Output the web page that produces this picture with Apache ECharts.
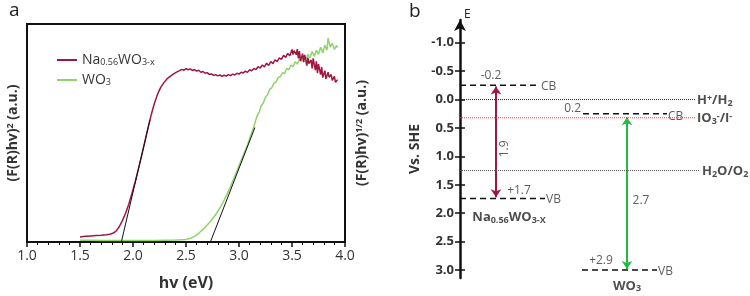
<!DOCTYPE html>
<html>
<head>
<meta charset="utf-8">
<script src="https://cdn.jsdelivr.net/npm/echarts@6.0.0/dist/echarts.min.js"></script>
<style>
  html, body { margin: 0; padding: 0; background: #fff; }
  #chart { width: 750px; height: 296px; }
</style>
</head>
<body>
<div id="chart"></div>
<script>
// ---- panel a: Tauc plot, [hv (eV), intensity (a.u.)] ----
const naCurve = [
  [1.50, 2.3], [1.55, 2.6], [1.60, 2.8], [1.65, 3.0], [1.70, 3.1], [1.75, 3.3], [1.78, 3.6], [1.81, 4.0],
  [1.84, 5.0], [1.87, 7.0], [1.90, 9.8], [1.93, 13.2], [1.96, 17.3], [1.99, 22.3], [2.02, 27.5], [2.05, 33.3],
  [2.08, 39.4], [2.11, 45.6], [2.14, 52.0], [2.17, 58.0], [2.20, 63.3], [2.23, 67.6], [2.26, 70.8], [2.29, 73.0],
  [2.32, 74.8], [2.35, 76.0], [2.38, 77.0], [2.41, 77.9], [2.44, 78.6], [2.46, 79.2], [2.48, 78.8], [2.50, 79.5],
  [2.52, 79.0], [2.54, 79.4], [2.56, 78.7], [2.58, 79.1], [2.60, 78.4], [2.62, 78.8], [2.64, 77.9], [2.66, 78.2],
  [2.68, 77.4], [2.70, 77.7], [2.72, 76.9], [2.74, 77.1], [2.76, 76.4], [2.78, 76.8], [2.80, 76.2], [2.82, 76.6],
  [2.84, 76.0], [2.86, 76.5], [2.88, 76.1], [2.90, 76.8], [2.92, 76.3], [2.94, 77.0], [2.96, 76.6], [2.98, 77.4],
  [3.00, 77.0], [3.02, 77.9], [3.04, 77.5], [3.06, 78.4], [3.08, 77.8], [3.10, 79.0], [3.12, 78.5], [3.14, 79.6],
  [3.16, 79.1], [3.18, 80.4], [3.20, 79.8], [3.22, 81.2], [3.24, 80.3], [3.26, 82.0], [3.28, 81.0], [3.30, 82.8],
  [3.32, 81.8], [3.34, 83.6], [3.36, 82.7], [3.38, 84.5], [3.40, 83.8], [3.42, 85.6], [3.44, 84.7], [3.46, 86.5],
  [3.48, 85.4], [3.50, 88.3], [3.51, 86.0], [3.52, 87.8], [3.54, 85.9], [3.55, 88.5], [3.56, 84.2], [3.57, 87.6],
  [3.58, 83.0], [3.60, 86.4], [3.61, 82.5], [3.62, 85.8], [3.64, 80.9], [3.65, 84.6], [3.66, 81.8], [3.68, 83.5],
  [3.69, 79.6], [3.70, 84.2], [3.72, 78.8], [3.73, 82.9], [3.74, 77.5], [3.75, 81.6], [3.77, 76.8], [3.78, 80.2],
  [3.79, 75.4], [3.81, 78.6], [3.82, 74.8], [3.84, 77.9], [3.85, 75.6], [3.87, 76.8], [3.88, 74.1], [3.90, 76.0],
  [3.91, 73.2], [3.93, 74.5]
];
const wo3Curve = [
  [1.50, 0.8], [1.60, 0.8], [1.70, 0.7], [1.80, 0.7], [1.90, 0.7], [2.00, 0.7], [2.10, 0.7], [2.20, 0.7],
  [2.30, 0.8], [2.40, 0.9], [2.45, 1.0], [2.50, 1.2], [2.54, 1.6], [2.58, 2.6], [2.62, 4.0], [2.66, 5.8],
  [2.70, 7.8], [2.74, 10.0], [2.78, 12.6], [2.82, 15.6], [2.86, 19.2], [2.90, 23.2], [2.94, 27.8], [2.98, 32.5],
  [3.02, 37.5], [3.05, 41.0], [3.08, 44.5], [3.11, 48.8], [3.13, 51.5], [3.15, 54.6], [3.17, 57.8], [3.19, 59.6],
  [3.21, 62.5], [3.23, 63.9], [3.25, 66.4], [3.27, 67.6], [3.29, 70.0], [3.31, 70.8], [3.33, 72.9], [3.35, 73.4],
  [3.37, 75.5], [3.39, 75.9], [3.41, 77.6], [3.43, 77.3], [3.45, 79.6], [3.47, 79.0], [3.49, 81.2], [3.51, 80.4],
  [3.53, 82.7], [3.55, 81.6], [3.57, 83.8], [3.59, 82.9], [3.61, 85.2], [3.63, 83.7], [3.65, 86.0], [3.67, 84.6],
  [3.69, 87.4], [3.71, 85.2], [3.73, 88.0], [3.75, 86.1], [3.77, 89.3], [3.79, 86.8], [3.81, 90.2], [3.83, 88.0],
  [3.84, 93.6], [3.86, 89.4], [3.88, 91.2], [3.90, 88.4], [3.92, 90.1], [3.93, 89.2]
];
const naTangent = [[1.89, 0], [2.16, 56]];
const wo3Tangent = [[2.73, 0], [3.15, 52.5]];

// ---- panel b: band positions (V vs. SHE) ----
const energyTicks = [-1.0, -0.5, 0.0, 0.5, 1.0, 1.5, 2.0, 2.5, 3.0];
const bandEnergies = [-0.25, 1.74, 0.25, 3.0];       // Na CB, Na VB, WO3 CB, WO3 VB
const bandValueLabels = ['-0.2', '+1.7', '0.2', '+2.9'];
const bandTags = ['CB', 'VB', 'CB', 'VB'];
const redoxEnergies = [0.0, 0.32, 1.25];
const redoxLabels = ['H{sup|+}/H{sub|2}', 'IO{sub|3}{sup|-}/I{sup|-}', 'H{sub|2}O/O{sub|2}'];
const gapLabels = ['1.9', '2.7'];
const gapArrows = [[-0.23, 1.72], [0.31, 2.98]];    // arrow tips, top and bottom

// layout of panel b (x in px from the energy axis)
const bandX = [[0, 80], [0, 85], [123, 207], [122, 197]];
const bandValueX = [31, 59, 121, 141];
const bandValueAlign = ['center', 'center', 'right', 'center'];
const bandValueDy = [-10, -8, -5, -9];
const bandTagDy = [1, 1, 3, 2];
const redoxX = [[0, 235], [0, 235], [0, 240]];
const redoxColors = ['#222', '#f03a3a', '#555'];
const arrowX = [36, 167];
const arrowColors = ['#a0163f', '#22bb44'];

const FONT = 'Open Sans';
const RED = '#a0163f';
const GREEN = '#8fd36a';

const rich = {
  sub: { fontSize: 9, verticalAlign: 'bottom', fontFamily: FONT, padding: [5, 0, 0, 0] },
  sup: { fontSize: 9, verticalAlign: 'top', fontFamily: FONT, padding: [0, 0, 5, 0] }
};
function richB() {
  return {
    sub: Object.assign({}, rich.sub, { fontWeight: 'bold' }),
    sup: Object.assign({}, rich.sup, { fontWeight: 'bold' })
  };
}

// text items for panel b
const texts = [];
bandEnergies.forEach((e, i) => {
  texts.push({ value: [bandValueX[i], e], label: { formatter: bandValueLabels[i], align: bandValueAlign[i], offset: [0, bandValueDy[i]] } });
  texts.push({ value: [bandX[i][1] + 1, e], label: { formatter: bandTags[i], align: 'left', offset: [0, bandTagDy[i]] } });
});
redoxEnergies.forEach((e, i) => {
  texts.push({ value: [redoxX[i][1] + 2, e], label: { formatter: redoxLabels[i], align: 'left', fontWeight: 'bold', fontSize: 13, color: '#222', rich: richB(), offset: [0, 1] } });
});
gapLabels.forEach((g, i) => {
  const mid = (gapArrows[i][0] + gapArrows[i][1]) / 2;
  texts.push(i === 0
    ? { value: [arrowX[i] + 9, mid], label: { formatter: g, align: 'center', rotate: 90, offset: [-7, 0] } }
    : { value: [arrowX[i] + 14, mid], label: { formatter: g, align: 'center', offset: [0, 8] } });
});
texts.push({ value: [49, bandEnergies[1]], label: { formatter: 'Na{sub|0.56}WO{sub|3-X}', align: 'center', fontWeight: 'bold', fontSize: 13, color: '#222', rich: richB(), offset: [0, 19] } });
texts.push({ value: [167, bandEnergies[3]], label: { formatter: 'WO{sub|3}', align: 'center', fontWeight: 'bold', fontSize: 13, color: '#222', rich: richB(), offset: [0, 16] } });

const levelSeries = bandEnergies.map((e, i) => ({
  type: 'line', xAxisIndex: 1, yAxisIndex: 2, symbol: 'none', silent: true,
  lineStyle: { color: '#111', width: 1.5, type: [6, 4] },
  data: [[bandX[i][0], e], [bandX[i][1], e]]
}));
const redoxSeries = redoxEnergies.map((e, i) => ({
  type: 'line', xAxisIndex: 1, yAxisIndex: 2, symbol: 'none', silent: true,
  lineStyle: { color: redoxColors[i], width: 1, type: [1, 1] },
  data: [[redoxX[i][0], e], [redoxX[i][1], e]]
}));
const arrowSeries = gapArrows.map((a, i) => ({
  type: 'lines', coordinateSystem: 'cartesian2d', xAxisIndex: 1, yAxisIndex: 2, silent: true,
  symbol: ['arrow', 'arrow'], symbolSize: 8,
  lineStyle: { color: arrowColors[i], width: 2, opacity: 1 },
  data: [{ coords: [[arrowX[i], a[0]], [arrowX[i], a[1]]] }]
}));

const chart = echarts.init(document.getElementById('chart'), null, { renderer: 'canvas' });

chart.setOption({
  animation: false,
  textStyle: { fontFamily: FONT },
  title: [
    { text: 'a', left: 4, top: -4, textStyle: { fontSize: 19, fontWeight: 'normal', color: '#222', fontFamily: FONT } },
    { text: 'b', left: 404, top: -3, textStyle: { fontSize: 19, fontWeight: 'normal', color: '#222', fontFamily: FONT } },
    { text: 'E', left: 459, top: 4, textStyle: { fontSize: 12, fontWeight: 'normal', color: '#222', fontFamily: FONT } }
  ],
  legend: {
    left: 52, top: 48, orient: 'vertical', itemWidth: 20, itemHeight: 2, itemGap: 6, icon: 'rect',
    data: ['Na', 'WO3'],
    formatter: n => n === 'Na' ? 'Na{sub|0.56}WO{sub|3-x}' : 'WO{sub|3}',
    textStyle: { fontSize: 14, color: '#333', fontFamily: FONT, rich: rich }
  },
  grid: [
    { left: 27, top: 24, width: 318, height: 219, show: true, borderColor: '#111', borderWidth: 2 },
    { left: 460, top: 20, width: 250, height: 258 }
  ],
  xAxis: [
    {
      gridIndex: 0, type: 'value', min: 1, max: 4, interval: 0.5,
      name: 'hv (eV)', nameLocation: 'middle', nameGap: 33,
      nameTextStyle: { fontSize: 16, fontWeight: 'bold', color: '#333', fontFamily: FONT },
      axisLine: { lineStyle: { color: '#111', width: 2 } },
      axisTick: { length: 5, lineStyle: { color: '#111', width: 1.5 } },
      minorTick: { show: true, splitNumber: 5, length: 3, lineStyle: { color: '#111', width: 1 } },
      axisLabel: { fontSize: 14, color: '#333', margin: 7, formatter: v => v.toFixed(1) },
      splitLine: { show: false }
    },
    { gridIndex: 1, type: 'value', min: 0, max: 250, show: false }
  ],
  yAxis: [
    {
      gridIndex: 0, type: 'value', min: 0, max: 100,
      name: '(F(R)hv){sup|2} (a.u.)', nameLocation: 'middle', nameGap: 7, nameRotate: 90,
      nameTextStyle: { fontSize: 14, fontWeight: 'bold', color: '#333', fontFamily: FONT, rich: richB() },
      axisLine: { show: true, lineStyle: { color: '#111', width: 2 } },
      axisTick: { show: false }, axisLabel: { show: false }, splitLine: { show: false }
    },
    {
      gridIndex: 0, type: 'value', min: 0, max: 100, position: 'right',
      name: '(F(R)hv){sup|1/2} (a.u.)', nameLocation: 'middle', nameGap: 10, nameRotate: 90,
      nameTextStyle: { fontSize: 14, fontWeight: 'bold', color: '#333', fontFamily: FONT, rich: richB() },
      axisLine: { show: true, lineStyle: { color: '#111', width: 2 } },
      axisTick: { show: false }, axisLabel: { show: false }, splitLine: { show: false }
    },
    {
      gridIndex: 1, type: 'value', min: -1.4, max: 3.14, inverse: true, position: 'left',
      name: 'Vs. SHE', nameLocation: 'middle', nameGap: 38, nameRotate: 90,
      nameTextStyle: { fontSize: 14, fontWeight: 'bold', color: '#333', fontFamily: FONT },
      axisLine: { show: true, symbol: ['none', 'arrow'], symbolSize: [9, 11], lineStyle: { color: '#111', width: 2.5 } },
      axisTick: { show: true, length: 5, customValues: energyTicks, lineStyle: { color: '#111', width: 1.5 } },
      axisLabel: { fontSize: 13, fontWeight: 'bold', color: '#333', margin: 6, customValues: energyTicks, formatter: v => v.toFixed(1) },
      splitLine: { show: false }
    },
    {
      gridIndex: 1, type: 'value', min: -1.4, max: 3.14, inverse: true, position: 'left', offset: 0,
      axisLine: { show: false },
      axisTick: { show: true, inside: true, length: 5, customValues: energyTicks, lineStyle: { color: '#111', width: 1.5 } },
      axisLabel: { show: false }, splitLine: { show: false }
    }
  ],
  series: [
    {
      name: 'Na', type: 'line', xAxisIndex: 0, yAxisIndex: 0, symbol: 'none',
      lineStyle: { color: RED, width: 1.5 }, itemStyle: { color: RED }, data: naCurve, z: 3
    },
    {
      name: 'WO3', type: 'line', xAxisIndex: 0, yAxisIndex: 0, symbol: 'none',
      lineStyle: { color: GREEN, width: 1.5 }, itemStyle: { color: GREEN }, data: wo3Curve, z: 2
    },
    {
      type: 'line', xAxisIndex: 0, yAxisIndex: 0, symbol: 'none', silent: true,
      lineStyle: { color: '#111', width: 1 }, data: naTangent, z: 4
    },
    {
      type: 'line', xAxisIndex: 0, yAxisIndex: 0, symbol: 'none', silent: true,
      lineStyle: { color: '#111', width: 1 }, data: wo3Tangent, z: 4
    },
    ...redoxSeries,
    ...levelSeries,
    ...arrowSeries,
    {
      type: 'scatter', xAxisIndex: 1, yAxisIndex: 2, symbolSize: 0, silent: true, clip: false,
      label: {
        show: true, position: [0, 0], verticalAlign: 'middle', fontSize: 12, color: '#333', fontFamily: FONT, rich: rich
      },
      data: texts
    }
  ]
});
</script>
</body>
</html>
